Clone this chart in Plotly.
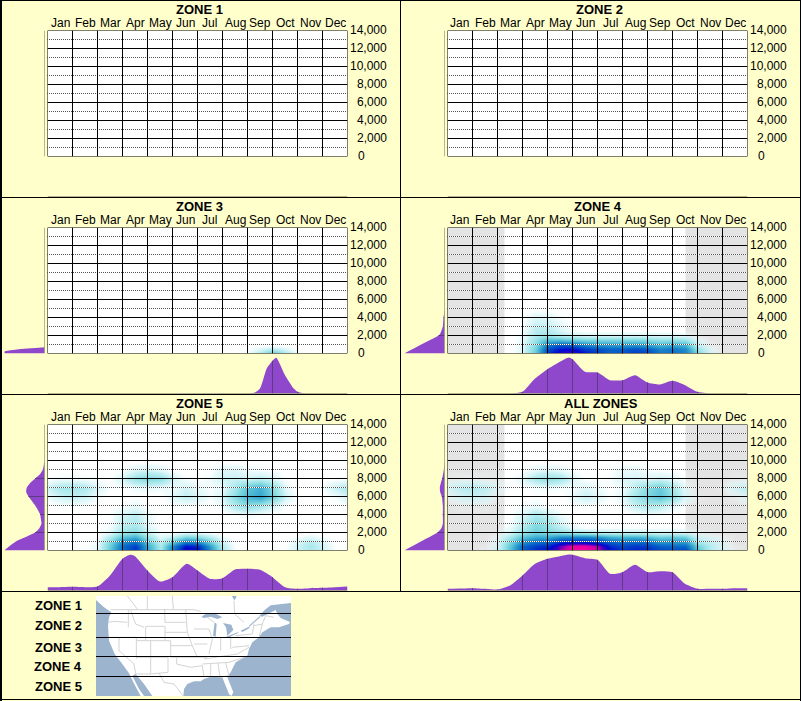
import numpy as np
import plotly.graph_objects as go

W, H = 801, 701
MONTHS = ["Jan", "Feb", "Mar", "Apr", "May", "Jun", "Jul", "Aug", "Sep", "Oct", "Nov", "Dec"]
Y_TICKS = [0, 2000, 4000, 6000, 8000, 10000, 12000, 14000]
Y_MINOR = [1000, 3000, 5000, 7000, 9000, 11000, 13000]
TITLES = ["ZONE 1", "ZONE 2", "ZONE 3", "ZONE 4", "ZONE 5", "ALL ZONES"]
TITLE_X = [199, 599, 199.5, 598, 199, 601]
MAP_LABELS = ["ZONE 1", "ZONE 2", "ZONE 3", "ZONE 4", "ZONE 5"]
MAP_LABEL_Y = [605, 625, 647, 666, 686]

# heat grid nodes
GX = [0, .5, 1, 1.5, 2, 2.5, 3, 3.5, 4, 4.5, 5, 5.5, 6, 6.5, 7, 7.5, 8, 8.5, 9, 9.5, 10, 10.5, 11, 11.5, 12]
GY = [0, 500, 1000, 1500, 2000, 2500, 3000, 4000, 5000, 6000, 7000, 8000, 9000, 10000]

HEAT_ZONE3 = [
 [0]*16 + [3, 14, 34, 16, 3, 0, 0, 0, 0],
 [0]*16 + [0, 6, 12, 6, 0, 0, 0, 0, 0],
] + [[0]*25 for _ in range(12)]

HEAT_ZONE4 = [
 [0,0,0,0,0,0,6,28,68,84,86,74,68,58,62,68,65,52,54,50,25,6,0,0,0],
 [0,0,0,0,0,0,6,26,62,74,76,66,62,57,58,62,58,48,52,46,18,4,0,0,0],
 [0,0,0,0,0,0,5,22,50,60,58,48,44,42,42,44,40,34,38,34,10,2,0,0,0],
 [0,0,0,0,0,0,4,18,32,32,28,24,24,24,24,24,22,19,20,18,4,0,0,0,0],
 [0,0,0,0,0,0,3,14,18,13,10,8,8,8,8,8,8,7,7,5,1,0,0,0,0],
 [0,0,0,0,0,0,2,12,13,7,3,1,1,1,1,1,1,1,1,0,0,0,0,0,0],
 [0,0,0,0,0,0,1,10,10,5,1,0,0,0,0,0,0,0,0,0,0,0,0,0,0],
 [0,0,0,0,0,0,1,6,6,2,0,0,0,0,0,0,0,0,0,0,0,0,0,0,0],
 [0,0,0,0,0,0,0,1,1,0,0,0,0,0,0,0,0,0,0,0,0,0,0,0,0],
] + [[0]*25 for _ in range(5)]

HEAT_ZONE5 = [
 [0,0,0,1,4,30,56,70,40,15,52,82,78,46,14,1,0,0,0,1,8,14,8,1,0],
 [0,0,0,1,4,28,54,66,38,14,46,74,70,40,12,1,0,0,0,1,8,15,8,1,0],
 [0,0,0,0,3,24,46,54,30,10,28,50,46,26,8,0,0,0,0,0,6,12,6,0,0],
 [0,0,0,0,1,14,30,36,18,5,10,24,22,12,3,0,0,0,0,0,2,5,2,0,0],
 [0,0,0,0,0,6,18,22,10,2,2,6,5,2,0,0,0,0,0,0,0,1,0,0,0],
 [0,0,0,0,0,3,13,17,7,1,0,0,0,0,0,0,0,0,0,0,0,0,0,0,0],
 [0,0,0,0,0,2,10,14,5,0,0,0,0,0,0,0,0,0,0,0,0,0,0,0,0],
 [0,0,0,0,0,1,7,11,4,0,0,0,0,0,0,1,3,1,0,0,0,0,0,0,0],
 [0,1,1,1,0,0,2,4,1,0,1,1,1,0,3,14,20,15,8,1,0,0,0,0,1],
 [3,8,10,8,2,0,0,1,0,0,5,10,7,2,7,22,34,40,26,8,1,0,0,2,7],
 [8,15,16,14,6,1,1,3,4,3,3,8,4,2,4,16,30,36,22,5,0,0,2,9,14],
 [1,3,3,2,1,1,7,18,23,20,8,2,1,3,8,9,8,11,7,1,0,0,0,1,2],
 [0,0,0,0,0,0,1,6,8,5,1,0,0,1,6,6,3,2,1,0,0,0,0,0,0],
 [0]*25,
]

HEAT_ALL = [
 [0,0,0,1,7,32,60,72,76,90,100,100,94,76,70,72,72,66,64,66,32,12,5,1,0],
 [0,0,0,1,6,30,56,66,70,86,97,97,90,70,64,68,66,58,56,56,26,12,5,1,0],
 [0,0,0,0,5,24,44,54,56,70,74,74,68,58,54,56,54,44,44,42,16,9,4,0,0],
 [0,0,0,0,3,16,30,38,38,46,48,48,44,36,34,36,32,26,28,26,8,4,2,0,0],
 [0,0,0,0,1,8,18,26,24,22,18,15,13,11,11,11,10,8,9,8,2,1,0,0,0],
 [0,0,0,0,0,4,14,24,20,12,5,2,2,2,2,2,2,2,2,1,0,0,0,0,0],
 [0,0,0,0,0,2,11,22,18,8,2,0,0,0,0,0,0,0,0,0,0,0,0,0,0],
 [0,0,0,0,0,1,6,14,10,3,0,0,0,0,0,0,2,1,0,0,0,0,0,0,0],
 [0,1,1,1,0,0,2,4,1,0,1,1,1,0,2,10,14,11,5,1,0,0,0,0,1],
 [2,6,8,6,1,0,0,1,0,0,4,9,6,1,5,16,24,30,20,6,1,0,0,1,5],
 [6,11,13,11,4,1,1,2,3,2,2,6,3,1,3,12,22,28,16,4,0,0,1,7,11],
 [1,2,2,1,1,1,5,15,20,16,6,1,1,2,6,7,6,8,5,1,0,0,0,1,1],
 [0,0,0,0,0,0,1,4,6,4,1,0,0,1,4,4,2,1,1,0,0,0,0,0,0],
 [0]*25,
]

# month profile under each panel
BOTTOM_M3 = [8, 8.3, 8.5, 8.77, 9, 9.15, 9.5, 9.85, 10, 10.3]
BOTTOM_V3 = [0, 3, 15, 75, 98, 107, 55, 15, 5, 0]
BOTTOM_M4 = [2.5, 3, 3.5, 4, 4.5, 4.85, 5, 5.5, 6, 6.5, 7, 7.5, 8, 8.5, 9, 9.5, 10, 10.5]
BOTTOM_V4 = [0, 5, 45, 73, 95, 108, 103, 65, 63, 40, 40, 55, 33, 27, 38, 25, 5, 0]
BOTTOM_M5 = [0, .5, 1, 1.5, 2, 2.5, 3, 3.3, 3.5, 4, 4.5, 5, 5.57, 6, 6.5, 7, 7.5, 8, 8.5, 9, 9.5, 10, 10.5, 11, 11.5, 12]
BOTTOM_V5 = [10, 10, 11, 10, 12, 45, 95, 107, 103, 60, 27, 40, 80, 60, 35, 37, 63, 65, 62, 40, 10, 5, 7, 8, 10, 12]
BOTTOM_MA = [0, .5, 1, 1.5, 2, 2.5, 3, 3.5, 4, 4.5, 4.85, 5, 5.5, 6, 6.5, 7, 7.5, 8, 8.5, 9, 9.5, 10, 10.5, 11, 11.5, 12]
BOTTOM_VA = [5, 6, 7, 5, 3, 15, 45, 80, 95, 103, 108, 107, 97, 92, 50, 55, 77, 55, 58, 55, 20, 5, 5, 5, 7, 7]

# elevation profile left of each panel
LEFT_Y3 = [0, 220, 700]
LEFT_V3 = [121, 121, 0]
LEFT_Y4 = [0, 1000, 2000, 2200, 3000, 4000, 4500, 5000]
LEFT_V4 = [121, 70, 18, 13, 5, 3, 1, 0]
LEFT_Y5 = [0, 1000, 2000, 2500, 3000, 3500, 4000, 5000, 5500, 6000, 6500, 7000, 7500, 8000, 8500, 9000, 9500, 10000]
LEFT_V5 = [121, 86, 28, 15, 9, 11, 13, 28, 38, 48, 55, 53, 43, 28, 13, 5, 2, 0]
LEFT_YA = [0, 1000, 2000, 2500, 3000, 4000, 5000, 6000, 6500, 7000, 7500, 8000, 9000, 10000]
LEFT_VA = [121, 71, 21, 9, 5, 5, 5, 8, 13, 14, 11, 7, 2, 0]

HEATS = [None, None, HEAT_ZONE3, HEAT_ZONE4, HEAT_ZONE5, HEAT_ALL]
BOTTOMS = [None, None, (BOTTOM_M3, BOTTOM_V3), (BOTTOM_M4, BOTTOM_V4), (BOTTOM_M5, BOTTOM_V5), (BOTTOM_MA, BOTTOM_VA)]
LEFTS = [None, None, (LEFT_Y3, LEFT_V3), (LEFT_Y4, LEFT_V4), (LEFT_Y5, LEFT_V5), (LEFT_YA, LEFT_VA)]
MASKED = [False, False, False, True, False, True]
MASK_SPANS = [(0, 2.28), (9.52, 12)]

# map artwork, in units of a third of a pixel
LAND = [(6,6),(600,6),(600,26),(560,30),(530,34),(512,48),(496,66),(505,68),(530,55),(545,48),(550,60),(560,72),(588,84),
        (585,90),(555,100),(530,100),(505,115),(495,130),(475,145),(465,165),(460,185),(425,205),(410,235),(400,250),
        (408,270),(418,295),(412,306),(405,300),(395,275),(385,250),(350,248),(330,255),(320,262),(300,262),(280,270),
        (270,285),(268,306),(175,306),(150,270),(125,240),(115,245),(135,285),(150,306),(140,306),(118,265),(105,238),
        (85,210),(62,180),(45,140),(42,95),(45,70),(52,55),(30,40),(6,18),(6,6)]
LAKES = [
 [(322,68),(335,60),(360,56),(385,70),(370,75),(350,68),(330,72),(322,68)],
 [(362,85),(368,90),(365,128),(357,125),(362,85)],
 [(387,87),(412,92),(418,108),(400,125),(396,100),(387,87)],
 [(392,130),(415,122),(435,113),(430,118),(405,130),(392,130)],
 [(440,110),(465,98),(467,102),(445,114),(440,110)],
 [(414,6),(428,6),(424,16),(420,18),(414,6)],
]
RIVER = [(465,97),(498,68)]
BORDERS = [
 [(100,6),(130,45)], [(160,6),(160,45)], [(235,6),(238,45)], [(50,47),(300,47),(320,52)],
 [(42,85),(60,82),(100,85)], [(103,47),(103,100)], [(110,50),(125,90),(150,100)], [(212,47),(213,85)],
 [(155,97),(155,140),(213,140),(213,97),(155,97)], [(45,130),(127,130)], [(75,130),(75,170),(120,210),(125,238)],
 [(127,130),(127,195)], [(127,140),(155,140)], [(127,190),(222,190)], [(170,140),(170,240)], [(213,140),(230,140),(230,190)],
 [(222,190),(222,235)], [(120,240),(170,240),(222,235)], [(230,190),(340,190)], [(248,190),(248,210),(290,220),(325,215)],
 [(195,237),(210,265),(240,270),(268,306)], [(213,85),(275,85)], [(213,115),(280,115)], [(230,155),(295,155)],
 [(275,47),(280,115),(295,155),(310,190)], [(300,105),(345,105)], [(300,150),(340,150)], [(345,105),(355,135),(345,180)],
 [(380,130),(380,170)], [(410,130),(410,165)], [(330,195),(430,180)], [(325,210),(405,205)], [(325,215),(330,250)],
 [(350,210),(350,250)], [(372,207),(378,250)], [(395,207),(405,245)], [(378,250),(405,245)], [(405,205),(450,190)],
 [(430,180),(465,160)], [(415,130),(465,130)], [(415,160),(465,155)], [(425,125),(475,120),(480,90)],
 [(480,95),(505,90),(495,130)], [(505,90),(515,65),(540,70)], [(340,70),(360,85)], [(420,20),(422,60),(450,85)],
]
ZONE_LINES = [58.5, 130.5, 187.5, 247.5]

BG = "#FFFFCC"
PURPLE = "#8F48CC"
GRIDPURPLE = "#5E3A85"
AXGRAY = "#6E6A5A"
WATER = "#9DB4CF"
COLORSCALE = [
 [0, "rgba(255,255,255,0)"], [0.03, "rgba(225,248,250,0.6)"], [0.10, "rgba(190,238,242,0.95)"],
 [0.2, "#90E0E4"], [0.32, "#55BFD8"], [0.42, "#2C9CCC"], [0.55, "#0A6CC8"], [0.66, "#0040C8"],
 [0.76, "#0008D0"], [0.84, "#4000C4"], [0.92, "#C000A8"], [1, "#FF00A0"],
]

def px(x):
    return x / W
def py(y):
    return 1 - y / H

fig = go.Figure()
layout = {}
shapes = []
annotations = []
ax_n = 0

def new_axes(xdom, ydom, xrange, yrange):
    global ax_n
    ax_n += 1
    s = "" if ax_n == 1 else str(ax_n)
    base = dict(visible=False, fixedrange=True, showgrid=False, zeroline=False)
    layout["xaxis" + s] = dict(base, domain=[px(xdom[0]), px(xdom[1])], range=xrange, anchor="y" + s)
    layout["yaxis" + s] = dict(base, domain=[py(ydom[1]), py(ydom[0])], range=yrange, anchor="x" + s)
    return "x" + s, "y" + s

def text(x, y, s, size=12, bold=False, anchor="center"):
    annotations.append(dict(xref="paper", yref="paper", x=px(x), y=py(y), text=("<b>%s</b>" % s) if bold else s,
                            showarrow=False, xanchor=anchor, yanchor="middle",
                            font=dict(family="Liberation Sans", size=size, color="#000000")))

for i in range(6):
    dx = 400 * (i % 2)
    dy = 197 * (i // 2)
    L, R = 47.5 + dx, 347.5 + dx
    T, B = 30.5 + dy, 156.5 + dy

    # left profile
    lx, ly = new_axes((4.5 + dx, 44.5 + dx), (T, B), [120, 0], [0, 14000])
    if LEFTS[i]:
        yy, vv = LEFTS[i]
        fig.add_trace(go.Scatter(x=vv, y=yy, xaxis=lx, yaxis=ly, mode="lines", line=dict(width=0, shape="spline", smoothing=0.6),
                                 fill="tozerox", fillcolor=PURPLE, hoverinfo="skip", showlegend=False, cliponaxis=False))
        for t in Y_TICKS[1:]:
            v = float(np.interp(t, yy, vv))
            if v > 0:
                fig.add_trace(go.Scatter(x=[0, v], y=[t, t], xaxis=lx, yaxis=ly, mode="lines", line=dict(width=1, color=GRIDPURPLE),
                                         hoverinfo="skip", showlegend=False))
    fig.add_trace(go.Scatter(x=[0, 0], y=[0, 14000], xaxis=lx, yaxis=ly, mode="lines", line=dict(width=1, color=AXGRAY),
                             hoverinfo="skip", showlegend=False, cliponaxis=False))

    # bottom profile
    bx, by = new_axes((L, R), (156.5 + dy, 196.5 + dy), [0, 12], [0, 120])
    if BOTTOMS[i]:
        mm, vv = BOTTOMS[i]
        fig.add_trace(go.Scatter(x=mm, y=vv, xaxis=bx, yaxis=by, mode="lines", line=dict(width=0, shape="spline", smoothing=0.6),
                                 fill="tozeroy", fillcolor=PURPLE, hoverinfo="skip", showlegend=False, cliponaxis=False))
        for t in range(1, 12):
            v = float(np.interp(t, mm, vv, left=0, right=0))
            if v > 0:
                fig.add_trace(go.Scatter(x=[t, t], y=[0, v], xaxis=bx, yaxis=by, mode="lines", line=dict(width=1, color=GRIDPURPLE),
                                         hoverinfo="skip", showlegend=False))
    fig.add_trace(go.Scatter(x=[0, 12], y=[0, 0], xaxis=bx, yaxis=by, mode="lines", line=dict(width=1, color=AXGRAY),
                             hoverinfo="skip", showlegend=False, cliponaxis=False))

    # heat panel
    hx, hy = new_axes((L, R), (T, B), [0, 12], [0, 14000])
    shapes.append(dict(type="rect", xref=hx, yref=hy, x0=0, x1=12, y0=0, y1=14000, layer="below",
                       fillcolor="#FFFFFF", line=dict(width=0)))
    if MASKED[i]:
        for a, b in MASK_SPANS:
            shapes.append(dict(type="rect", xref=hx, yref=hy, x0=a, x1=b, y0=0, y1=14000, layer="below",
                               fillcolor="#E4E4E4", line=dict(width=0)))
    if HEATS[i]:
        fig.add_trace(go.Heatmap(x=GX, y=GY, z=HEATS[i], xaxis=hx, yaxis=hy, zmin=0, zmax=100, zsmooth="best",
                                 colorscale=COLORSCALE, showscale=False, hoverinfo="skip"))
    dotted_x, dotted_y = [], []
    for t in Y_MINOR:
        dotted_x += [0, 12, None]
        dotted_y += [t, t, None]
    fig.add_trace(go.Scatter(x=dotted_x, y=dotted_y, xaxis=hx, yaxis=hy, mode="lines", line=dict(width=1, color="#FFFFFF"),
                             hoverinfo="skip", showlegend=False))
    # half a pixel further left so that each dash fills a whole pixel
    dash_x = [(-0.5 / 25 if v == 0 else v) for v in dotted_x]
    fig.add_trace(go.Scatter(x=dash_x, y=dotted_y, xaxis=hx, yaxis=hy, mode="lines",
                             line=dict(width=1, color="#555555", dash="1px,1px"), hoverinfo="skip", showlegend=False))
    sx, sy = [], []
    for t in Y_TICKS:
        sx += [0, 12, None]
        sy += [t, t, None]
    for m in range(13):
        sx += [m, m, None]
        sy += [0, 14000, None]
    fig.add_trace(go.Scatter(x=sx, y=sy, xaxis=hx, yaxis=hy, mode="lines", line=dict(width=1, color="#000000"),
                             hoverinfo="skip", showlegend=False, cliponaxis=False))

    # texts
    text(TITLE_X[i], 9.5 + dy, TITLES[i], size=13, bold=True)
    for m, name in enumerate(MONTHS):
        text(L + 12.5 + 25 * m, 22.5 + dy, name)
    for t in Y_TICKS:
        yp = B - (t / 14000) * 126 - 0.5
        if t == 0:
            text(355.5 + dx, yp, "0", anchor="left")
        else:
            text(389 + dx, yp, f"{t:,}", anchor="right")

# map
mx, my = new_axes((96, 291), (596, 696), [6, 591], [306, 6])
shapes.append(dict(type="rect", xref=mx, yref=my, x0=6, x1=591, y0=6, y1=306, layer="below",
                   fillcolor=WATER, line=dict(width=0)))
fig.add_trace(go.Scatter(x=[p[0] for p in LAND], y=[p[1] for p in LAND], xaxis=mx, yaxis=my, mode="lines",
                         line=dict(width=0), fill="toself", fillcolor="#FFFFFF", hoverinfo="skip", showlegend=False))
bx_, by_ = [], []
for seg in BORDERS:
    bx_ += [p[0] for p in seg] + [None]
    by_ += [p[1] for p in seg] + [None]
fig.add_trace(go.Scatter(x=bx_, y=by_, xaxis=mx, yaxis=my, mode="lines", line=dict(width=1, color="#D4D4D4"),
                         hoverinfo="skip", showlegend=False))
for lake in LAKES:
    fig.add_trace(go.Scatter(x=[p[0] for p in lake], y=[p[1] for p in lake], xaxis=mx, yaxis=my, mode="lines",
                             line=dict(width=0), fill="toself", fillcolor=WATER, hoverinfo="skip", showlegend=False))
fig.add_trace(go.Scatter(x=[p[0] for p in RIVER], y=[p[1] for p in RIVER], xaxis=mx, yaxis=my, mode="lines",
                         line=dict(width=1.2, color=WATER), hoverinfo="skip", showlegend=False))
for z in ZONE_LINES:
    fig.add_trace(go.Scatter(x=[6, 591], y=[z, z], xaxis=mx, yaxis=my, mode="lines", line=dict(width=1, color="#000000"),
                             hoverinfo="skip", showlegend=False))
for name, yp in zip(MAP_LABELS, MAP_LABEL_Y):
    text(84, yp, name, size=13, bold=True, anchor="right")

# panel borders
def border(x0, y0, x1, y1, w=1):
    shapes.append(dict(type="line", xref="paper", yref="paper", x0=px(x0), x1=px(x1), y0=py(y0), y1=py(y1),
                       line=dict(width=w, color="#000000"), layer="above"))
border(400.5, 0, 400.5, 591.5)
for yb in (197.5, 394.5, 591.5):
    border(0, yb, 801, yb)
border(0, 0.5, 801, 0.5)
border(0.5, 0, 0.5, 701)
border(1.5, 0, 1.5, 701)
border(800.5, 0, 800.5, 701)
border(0, 699.5, 801, 699.5)

fig.update_layout(**layout)
fig.update_layout(width=W, height=H, margin=dict(l=0, r=0, t=0, b=0, pad=0), paper_bgcolor=BG, plot_bgcolor="rgba(0,0,0,0)",
                  showlegend=False, shapes=shapes, annotations=annotations, hovermode=False,
                  font=dict(family="Liberation Sans", size=12))
fig.write_html("out.html", config=dict(displayModeBar=False, staticPlot=True),
               post_script="document.body.style.margin='0';document.body.style.overflow='hidden';")
